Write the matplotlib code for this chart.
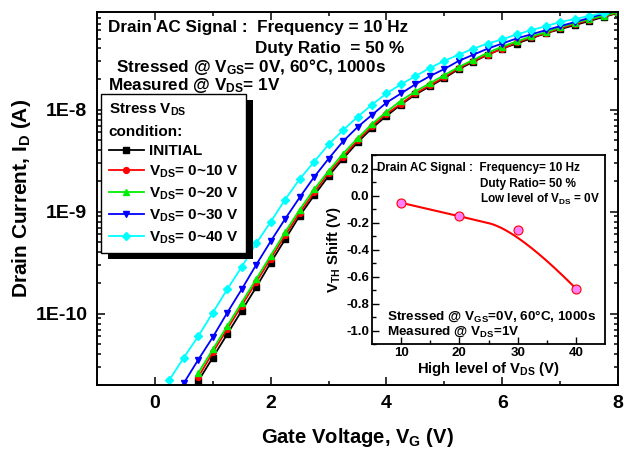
import matplotlib
matplotlib.use('Agg')
import matplotlib.pyplot as plt
from matplotlib.patches import Rectangle
from matplotlib.transforms import IdentityTransform
from matplotlib.ticker import FixedLocator, MultipleLocator, LogLocator, NullFormatter
import numpy as np

plt.rcParams['font.family'] = ['Liberation Sans', 'DejaVu Sans']
plt.rcParams['font.weight'] = 'bold'
plt.rcParams['mathtext.fontset'] = 'custom'
plt.rcParams['mathtext.default'] = 'regular'
plt.rcParams['axes.unicode_minus'] = False

# gate voltage sweep (V) and log10 of drain current
vg = [0.25, 0.5, 0.75, 1.0, 1.25, 1.5, 1.75, 2.0, 2.25, 2.5, 2.75, 3.0, 3.25, 3.5, 3.75, 4.0,
      4.25, 4.5, 4.75, 5.0, 5.25, 5.5, 5.75, 6.0, 6.25, 6.5, 6.75, 7.0, 7.25, 7.5, 7.75, 8.0]

log_id_initial = [-10.66, -10.43, -10.20, -9.97, -9.74, -9.50, -9.27, -9.04, -8.84, -8.65,
                  -8.48, -8.32, -8.18, -8.06, -7.95, -7.85, -7.77, -7.69, -7.60, -7.53,
                  -7.46, -7.40, -7.35, -7.30, -7.25, -7.21, -7.17, -7.13, -7.09, -7.05]
log_id_10v = [-10.62, -10.38, -10.15, -9.92, -9.69, -9.46, -9.23, -9.01, -8.81, -8.62,
              -8.46, -8.30, -8.16, -8.04, -7.94, -7.84, -7.76, -7.68, -7.59, -7.52,
              -7.46, -7.40, -7.34, -7.29, -7.25, -7.20, -7.16, -7.12, -7.08, -7.05]
log_id_20v = [-10.58, -10.35, -10.12, -9.89, -9.66, -9.43, -9.20, -8.98, -8.78, -8.60,
              -8.43, -8.28, -8.14, -8.02, -7.91, -7.82, -7.74, -7.66, -7.58, -7.51,
              -7.44, -7.38, -7.33, -7.28, -7.24, -7.19, -7.15, -7.11, -7.08, -7.04]
log_id_30v = [-10.68, -10.45, -10.23, -9.99, -9.76, -9.52, -9.29, -9.07, -8.86, -8.66,
              -8.48, -8.31, -8.17, -8.05, -7.93, -7.84, -7.75, -7.67, -7.60, -7.52,
              -7.46, -7.40, -7.35, -7.30, -7.26, -7.22, -7.18, -7.14, -7.10, -7.06, -7.03]
log_id_40v = [-10.65, -10.43, -10.22, -9.99, -9.76, -9.54, -9.31, -9.10, -8.88, -8.68,
              -8.51, -8.34, -8.20, -8.07, -7.95, -7.84, -7.75, -7.67, -7.59, -7.52,
              -7.46, -7.40, -7.35, -7.31, -7.26, -7.22, -7.18, -7.14, -7.11, -7.08,
              -7.05, -7.02]

labels = ['INITIAL', 'V$_{DS}$= 0~10 V', 'V$_{DS}$= 0~20 V', 'V$_{DS}$= 0~30 V', 'V$_{DS}$= 0~40 V']

# inset: threshold voltage shift vs high level of VDS
vds_high = [10, 20, 30, 40]
vth_shift = [-0.054, -0.153, -0.256, -0.689]


def bspline2(cx, cy, n=200):
    # clamped quadratic B-spline using the points as control points
    cx = np.asarray(cx, float)
    cy = np.asarray(cy, float)
    k = 2
    m = len(cx)
    t = np.concatenate([np.zeros(k), np.linspace(0, 1, m - k + 1), np.ones(k)])
    u = np.linspace(0, 1 - 1e-9, n)

    def N(i, d):
        if d == 0:
            return ((t[i] <= u) & (u < t[i + 1])).astype(float)
        a = np.zeros_like(u)
        b = np.zeros_like(u)
        if t[i + d] > t[i]:
            a = (u - t[i]) / (t[i + d] - t[i]) * N(i, d - 1)
        if t[i + d + 1] > t[i + 1]:
            b = (t[i + d + 1] - u) / (t[i + d + 1] - t[i + 1]) * N(i + 1, d - 1)
        return a + b

    B = np.array([N(i, k) for i in range(m)])
    return B.T @ cx, B.T @ cy


fig = plt.figure(figsize=(6.24, 4.51), dpi=100)
ax = fig.add_axes([97 / 624, 1 - 385 / 451, 521 / 624, 373 / 451])

series = [
    (log_id_initial, 'black', 's'),
    (log_id_10v, 'red', 'o'),
    (log_id_20v, '#00ee00', '^'),
    (log_id_30v, 'blue', 'v'),
    (log_id_40v, 'cyan', 'D'),
]
for (ys, col, mk), lab in zip(series, labels):
    xs = vg[len(vg) - len(ys):]
    ax.plot(xs, 10 ** np.array(ys), color=col, marker=mk, markersize=4.2 if mk != 'D' else 3.6,
            lw=1.3, label=lab)

ax.set_yscale('log')
ax.set_xlim(-1, 8)
ax.set_ylim(2.0e-11, 9.1e-8)
ax.xaxis.set_major_locator(FixedLocator([0, 2, 4, 6, 8]))
ax.xaxis.set_minor_locator(MultipleLocator(1))
ax.yaxis.set_major_locator(FixedLocator([1e-10, 1e-9, 1e-8]))
ax.set_yticklabels(['1E-10', '1E-9', '1E-8'])
ax.yaxis.set_minor_locator(LogLocator(base=10, subs=np.arange(2, 10)))
ax.yaxis.set_minor_formatter(NullFormatter())
ax.tick_params(which='both', direction='in', top=True, right=True, width=1.1)
ax.tick_params(which='major', length=6, labelsize=14, pad=7)
ax.tick_params(which='minor', length=3)
for s in ax.spines.values():
    s.set_linewidth(1.4)
ax.set_xlabel('Gate Voltage, V$_{G}$ (V)', fontsize=14.5, fontweight='bold', labelpad=10)
ax.set_ylabel('Drain Current, I$_{D}$ (A)', fontsize=15, fontweight='bold', labelpad=1.5)

leg = ax.legend(loc='upper left', bbox_to_anchor=(0.008, 0.78), borderaxespad=0,
                title='Stress V$_{DS}$\ncondition:', alignment='left',
                prop={'weight': 'bold', 'size': 11},
                title_fontproperties={'weight': 'bold', 'size': 11},
                fancybox=False, edgecolor='black', framealpha=1,
                handlelength=2.3, handletextpad=0.3, labelspacing=0.36, borderpad=0.5)
leg.get_title().set_linespacing(1.6)
leg.get_frame().set_linewidth(1.0)
leg.set_zorder(6)

# main annotations
big = dict(fontsize=12.3, fontweight='bold', va='baseline')
fig.text(108 / 624, 1 - 32 / 451, 'Drain AC Signal :  Frequency = 10 Hz', **big)
fig.text(255 / 624, 1 - 53 / 451, 'Duty Ratio  = 50 %', **big)
fig.text(116 / 624, 1 - 72 / 451, 'Stressed @ V$_{GS}$= 0V, 60°C, 1000s', **big)
fig.text(108 / 624, 1 - 90 / 451, 'Measured @ V$_{DS}$= 1V', **big)

# inset
ins = fig.add_axes([372 / 624, 1 - 344 / 451, 233 / 624, 189 / 451])
ins.set_zorder(10)
bx, by = bspline2(vds_high, vth_shift)
ins.plot(bx, by, color='red', lw=1.5)
ins.plot(vds_high, vth_shift, 'o', ms=6.5, mfc='#ff80ff', mec='red', mew=0.8)
ins.set_xlim(5, 45)
ins.set_ylim(-1.1, 0.3)
ins.xaxis.set_major_locator(FixedLocator([10, 20, 30, 40]))
ins.xaxis.set_minor_locator(FixedLocator([15, 25, 35]))
ins.yaxis.set_major_locator(FixedLocator([-1.0, -0.8, -0.6, -0.4, -0.2, 0.0, 0.2]))
ins.yaxis.set_minor_locator(MultipleLocator(0.1))
ins.yaxis.set_major_formatter(matplotlib.ticker.FormatStrFormatter('%.1f'))
ins.tick_params(which='both', direction='in', width=1.0)
ins.tick_params(which='major', length=5, labelsize=9.5, pad=2)
ins.tick_params(which='minor', length=3)
for s in ins.spines.values():
    s.set_linewidth(1.3)
ins.set_xlabel('High level of V$_{DS}$ (V)', fontsize=10.7, fontweight='bold', labelpad=1)
ins.set_ylabel('V$_{TH}$ Shift (V)', fontsize=10.7, fontweight='bold', labelpad=2)

small = dict(fontsize=8.5, fontweight='bold', va='baseline', zorder=20)
fig.text(376.7 / 624, 1 - 170.7 / 451, 'Drain AC Signal :  Frequency= 10 Hz', **small)
fig.text(480 / 624, 1 - 186.7 / 451, 'Duty Ratio= 50 %', **small)
fig.text(480 / 624, 1 - 203.3 / 451, 'Low level of V$_{DS}$ = 0V', **small)
mid = dict(fontsize=9.7, fontweight='bold', va='baseline', zorder=20)
fig.text(386.7 / 624, 1 - 320 / 451, 'Stressed @ V$_{GS}$=0V, 60°C, 1000s', **mid)
fig.text(386.7 / 624, 1 - 335 / 451, 'Measured @ V$_{DS}$=1V', **mid)

# black drop shadow behind the legend box
fig.canvas.draw()
bb = leg.get_frame().get_window_extent()
ax.add_patch(Rectangle((bb.x0 + 7, bb.y0 - 6), bb.width, bb.height, transform=IdentityTransform(),
                       facecolor='black', edgecolor='none', zorder=5))

fig.savefig('out.png', dpi=100)
